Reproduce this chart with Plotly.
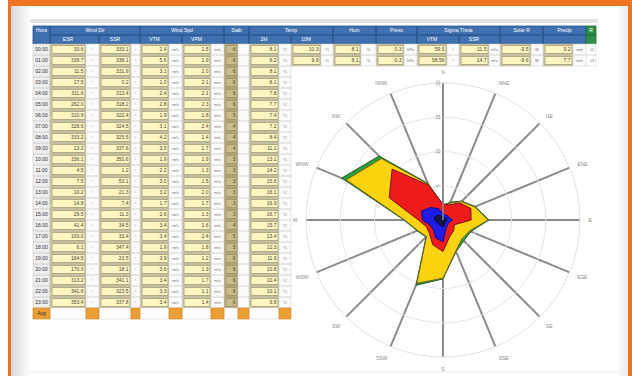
import plotly.graph_objects as go

# ---------------- DATA ----------------
directions = ["N", "NNE", "NE", "ENE", "E", "ESE", "SE", "SSE",
              "S", "SSW", "SW", "WSW", "W", "WNW", "NW", "NNW"]
series_green = [2.2, 2.8, 3.9, 5.1, 6.7, 4.4, 4.3, 5.0, 8.6, 10.3, 3.5, 4.1, 5.7, 16.0, 13.2, 5.8]
series_yellow = [2.1, 2.7, 3.8, 5.0, 6.6, 4.2, 3.9, 4.9, 8.5, 10.0, 3.4, 4.0, 5.6, 15.3, 12.7, 5.7]
series_red = [2.3, 2.4, 3.5, 4.4, 4.1, 1.8, 2.2, 2.6, 4.6, 3.9, 2.8, 2.6, 3.6, 8.5, 10.5, 5.5]
series_blue = [1.0, 0.8, 0.9, 1.0, 1.4, 0.9, 1.0, 1.2, 3.2, 2.8, 2.0, 2.0, 3.0, 3.4, 2.6, 1.8]
series_dark = [0.5, 0.4, 0.4, 0.5, 0.6, 0.4, 0.5, 0.6, 1.0, 0.9, 0.8, 0.9, 1.2, 1.3, 1.0, 0.6]
radial_ticks = [5, 10, 15, 20]

hours = ["00:00", "01:00", "02:00", "03:00", "04:00", "05:00", "06:00", "07:00",
         "08:00", "09:00", "10:00", "11:00", "12:00", "13:00", "14:00", "15:00",
         "16:00", "17:00", "18:00", "19:00", "20:00", "21:00", "22:00", "23:00"]
total_label = "Avg"
group_titles = ["Hora", "Wind Dir", "Wind Spd", "Stab", "Temp", "Hum",
                "Press", "Sigma Theta", "Solar R", "Precip", "R"]
sub_titles = ["ESR", "SSR", "VTM", "VPM", "", "2M", "10M", "", "", "VTM", "SSR", "", ""]
unit_labels = ["°", "°", "m/s", "m/s", "", "°C", "°C", "%", "hPa", "°", "m/s", "W", "mm"]

col_wdir1 = ["33.6", "339.7", "11.5", "17.5", "311.6", "262.0", "310.9", "328.6",
             "333.2", "13.2", "336.1", "4.5", "7.5", "10.2", "14.8", "29.5",
             "41.4", "100.0", "6.1", "164.5", "170.0", "313.2", "341.6", "353.4"]
col_wdir2 = ["333.1", "338.1", "331.9", "0.2", "313.4", "318.2", "322.4", "324.5",
             "325.5", "337.6", "350.6", "1.2", "53.1", "21.3", "7.4", "11.3",
             "34.5", "33.4", "347.4", "23.5", "18.1", "341.1", "323.5", "337.8"]
col_wspd1 = ["2.4", "5.6", "3.1", "1.0", "2.4", "2.8", "1.9", "3.1",
             "4.2", "3.5", "1.9", "2.2", "3.0", "3.2", "1.7", "2.6",
             "3.4", "3.4", "1.9", "3.9", "3.6", "3.4", "3.3", "3.4"]
col_wspd2 = ["1.5", "1.9", "2.0", "2.1", "2.1", "2.3", "1.8", "2.4",
             "1.4", "1.7", "1.9", "1.3", "1.5", "2.0", "1.7", "1.3",
             "1.6", "2.4", "1.8", "1.2", "1.3", "1.7", "1.1", "1.4"]
col_stab = ["6", "6", "6", "6", "6", "6", "5", "4", "4", "4", "3", "3",
            "3", "3", "3", "3", "4", "5", "5", "6", "6", "6", "6", "6"]
col_temp1 = ["8.1", "8.2", "8.1", "8.1", "7.8", "7.7", "7.4", "7.2",
             "8.4", "11.1", "13.1", "14.2", "15.6", "16.1", "16.9", "16.7",
             "15.7", "13.4", "12.3", "11.9", "10.8", "10.4", "10.1", "9.8"]
col_temp2 = ["10.3", "9.9"]
col_hum = ["8.1", "8.1"]
col_press = ["0.3", "0.3"]
col_sigma1 = ["59.5", "58.56"]
col_sigma2 = ["11.5", "14.7"]
col_solar = ["-9.5", "-9.6"]
col_precip = ["9.2", "7.7"]
col_r = ["12", "13"]

# ---------------- LAYOUT GEOMETRY ----------------
W, H = 632, 376
col_x = [33, 50, 86, 99, 131, 140, 169, 182, 211, 224, 238, 249, 279, 291, 321, 333,
         361, 376, 404, 417, 447, 459, 489, 500, 531, 543, 573, 586, 596]
col_kind = ["time", "val", "unit", "val", "unit", "val", "unit", "val", "unit", "dark", "unit",
            "val", "unit", "val", "unit", "val", "unit", "val", "unit", "val", "unit",
            "val", "unit", "val", "unit", "val", "unit", "green"]
group_edges = [33, 50, 140, 224, 249, 333, 376, 417, 500, 543, 586, 596]
HDR1, HDR2, ROW0, ROWH = 26, 35, 44, 11.0
CLIP_X, CLIP_ROW = 291, 2

value_columns = [col_wdir1, col_wdir2, col_wspd1, col_wspd2, col_stab, col_temp1,
                 col_temp2, col_hum, col_press, col_sigma1, col_sigma2, col_solar, col_precip]

styles = {
    "hdr": dict(fill="#3f70b0", line="#28528c", w=0.8),
    "hdrg": dict(fill="#2f8f48", line="#1f6a33", w=0.8),
    "time": dict(fill="#efefef", line="#cfcfcf", w=0.6),
    "valbg": dict(fill="#d3ceb1", line="#b9b394", w=0.6),
    "valbox": dict(fill="#fdf5c2", line="#a29c76", w=0.8),
    "darkbg": dict(fill="#bcb07f", line="#a69b6b", w=0.6),
    "darkbox": dict(fill="#cabd89", line="#9c9163", w=0.8),
    "unit": dict(fill="#fbfbfb", line="#d4d4d4", w=0.6),
    "white": dict(fill="#ffffff", line="#d8d8d8", w=0.6),
    "orange": dict(fill="#ec9f35", line="#d08420", w=0.6),
}
paths = {k: ([], []) for k in styles}


def add_rect(key, x0, x1, y0, y1):
    xs, ys = paths[key]
    xs += [x0, x1, x1, x0, x0, None]
    ys += [y0, y0, y1, y1, y0, None]


texts = {"val": ([], [], []), "unit": ([], [], []), "time": ([], [], []), "hdr": ([], [], [])}


def add_text(key, x, y, t):
    texts[key][0].append(x)
    texts[key][1].append(y)
    texts[key][2].append(t)


# header row 1 (groups)
for gi in range(len(group_edges) - 1):
    x0, x1 = group_edges[gi], group_edges[gi + 1]
    key = "hdrg" if gi == len(group_edges) - 2 else "hdr"
    if gi == 0:
        add_rect(key, x0, x1, HDR1, ROW0)
        add_text("hdr", (x0 + x1) / 2, (HDR1 + HDR2) / 2, group_titles[gi])
    else:
        add_rect(key, x0, x1, HDR1, HDR2)
        add_text("hdr", (x0 + x1) / 2, (HDR1 + HDR2) / 2, group_titles[gi])
        if key == "hdrg":
            add_rect(key, x0, x1, HDR2, ROW0)

# header row 2 (sub headers per value+unit pair)
vi = 0
for ci, kind in enumerate(col_kind):
    if kind in ("val", "dark"):
        x0, x1 = col_x[ci], col_x[ci + 2]
        add_rect("hdr", x0, x1, HDR2, ROW0)
        add_text("hdr", (col_x[ci] + col_x[ci + 1]) / 2, (HDR2 + ROW0) / 2, sub_titles[vi])
        vi += 1

# data rows
n_rows = len(hours)
for r in range(n_rows + 1):
    y0 = ROW0 + r * ROWH
    y1 = y0 + ROWH
    ym = (y0 + y1) / 2
    vi = 0
    ui = 0
    for ci, kind in enumerate(col_kind):
        x0, x1 = col_x[ci], col_x[ci + 1]
        visible = r < CLIP_ROW or x0 < CLIP_X
        if not visible:
            if kind in ("val", "dark"):
                vi += 1
            if kind == "unit":
                ui += 1
            continue
        if r == n_rows:  # bottom summary row
            if kind == "time":
                add_rect("orange", x0, x1, y0, y1)
                add_text("time", (x0 + x1) / 2, ym, total_label)
            elif kind == "unit":
                add_rect("orange", x0, x1, y0, y1)
            elif kind in ("val", "dark"):
                add_rect("white", x0, x1, y0, y1)
            continue
        if kind == "time":
            add_rect("time", x0, x1, y0, y1)
            add_text("time", (x0 + x1) / 2, ym, hours[r])
        elif kind in ("val", "dark"):
            bg, box = ("valbg", "valbox") if kind == "val" else ("darkbg", "darkbox")
            add_rect(bg, x0, x1, y0, y1)
            add_rect(box, x0 + 2, x1 - 1, y0 + 1.5, y1 - 1.5)
            col = value_columns[vi]
            if r < len(col):
                add_text("val", x1 - 2.5, ym, col[r])
            vi += 1
        elif kind == "unit":
            add_rect("unit", x0, x1, y0, y1)
            add_text("unit", (x0 + x1) / 2, ym, unit_labels[ui])
            ui += 1
        elif kind == "green":
            add_rect("white", x0, x1, y0, y1)
            if r < len(col_r):
                add_text("unit", (x0 + x1) / 2 + 1, ym, col_r[r])

fig = go.Figure()

for key, st in styles.items():
    xs, ys = paths[key]
    if not xs:
        continue
    fig.add_trace(go.Scatter(x=xs, y=ys, mode="lines", fill="toself",
                             fillcolor=st["fill"], line=dict(color=st["line"], width=st["w"]),
                             hoverinfo="skip", showlegend=False, xaxis="x", yaxis="y"))

text_styles = {
    "val": dict(size=5, color="#4a4630", pos="middle left"),
    "unit": dict(size=4, color="#707070", pos="middle center"),
    "time": dict(size=5, color="#303030", pos="middle center"),
    "hdr": dict(size=5, color="#ffffff", pos="middle center"),
}
for key, st in text_styles.items():
    xs, ys, ts = texts[key]
    fig.add_trace(go.Scatter(x=xs, y=ys, text=ts, mode="text", textposition=st["pos"],
                             textfont=dict(size=st["size"], color=st["color"],
                                           family="Liberation Sans"),
                             hoverinfo="skip", showlegend=False, xaxis="x", yaxis="y"))

# ---------------- WIND ROSE ----------------
rose = [
    (series_green, "#2f9e3c", "#1d5e22"),
    (series_yellow, "#fdd20e", "#6b6420"),
    (series_red, "#ee1b1b", "#7a1010"),
    (series_blue, "#1c1ce6", "#10107a"),
    (series_dark, "#15154a", "#0a0a2a"),
]
for vals, fillc, linec in rose:
    fig.add_trace(go.Scatterpolar(r=vals + vals[:1], theta=directions + directions[:1],
                                  mode="lines", fill="toself", fillcolor=fillc,
                                  line=dict(color=linec, width=1),
                                  hoverinfo="skip", showlegend=False, subplot="polar"))

shapes = [
    # orange frame
    dict(type="rect", xref="x", yref="y", x0=8, x1=632, y0=0, y1=6,
         fillcolor="#ee7421", line=dict(width=0), layer="below"),
    dict(type="rect", xref="x", yref="y", x0=8, x1=11, y0=0, y1=376,
         fillcolor="#ee7421", line=dict(width=0), layer="below"),
    dict(type="rect", xref="x", yref="y", x0=628, x1=632, y0=0, y1=376,
         fillcolor="#ee7421", line=dict(width=0), layer="below"),
    # top gray band above the table
    dict(type="rect", xref="x", yref="y", x0=30, x1=598, y0=19, y1=23,
         fillcolor="#e4e4e4", line=dict(width=0), layer="below"),
    dict(type="line", xref="x", yref="y", x0=14, x1=626, y0=372, y1=372,
         line=dict(color="#ececec", width=1), layer="below"),
]
# soft shading at the inner left / right edges of the panel
shade_left = ["#dcdcdc", "#e2e2e2", "#e8e8e8", "#eeeeee", "#f3f3f3", "#f8f8f8"]
for i, c in enumerate(shade_left):
    shapes.append(dict(type="rect", xref="x", yref="y", x0=11 + 3 * i, x1=14 + 3 * i,
                       y0=6, y1=376, fillcolor=c, line=dict(width=0), layer="below"))
shade_right = ["#f7f7f7", "#f2f2f2", "#ececec"]
for i, c in enumerate(shade_right):
    shapes.append(dict(type="rect", xref="x", yref="y", x0=619 + 3 * i, x1=622 + 3 * i,
                       y0=6, y1=376, fillcolor=c, line=dict(width=0), layer="below"))

cx, cy, rad = 443, 220, 137
fig.update_layout(
    width=W, height=H, margin=dict(l=0, r=0, t=0, b=0),
    paper_bgcolor="#ffffff", plot_bgcolor="rgba(0,0,0,0)",
    showlegend=False, shapes=shapes,
    xaxis=dict(range=[0, W], visible=False, domain=[0, 1], fixedrange=True),
    yaxis=dict(range=[H, 0], visible=False, domain=[0, 1], fixedrange=True),
    polar=dict(
        domain=dict(x=[(cx - rad) / W, (cx + rad) / W],
                    y=[(H - cy - rad) / H, (H - cy + rad) / H]),
        bgcolor="#ffffff",
        angularaxis=dict(rotation=90, direction="clockwise", type="category",
                         categoryarray=directions,
                         showline=True, linecolor="#e2e2e2", linewidth=1,
                         gridcolor="#8c8c8c", gridwidth=1.5,
                         tickfont=dict(size=5, color="#8a8a8a", family="Liberation Sans"),
                         ticks="outside", ticklen=7, tickcolor="rgba(0,0,0,0)"),
        radialaxis=dict(range=[0, 20], tickvals=radial_ticks, angle=90, tickangle=0,
                        side="counterclockwise",
                        showline=True, linecolor="#8c8c8c", linewidth=1.5,
                        gridcolor="#e6e6e6", gridwidth=1, ticks="",
                        tickfont=dict(size=5, color="#8a8a8a", family="Liberation Sans")),
    ),
)

fig.write_html("out.html")
